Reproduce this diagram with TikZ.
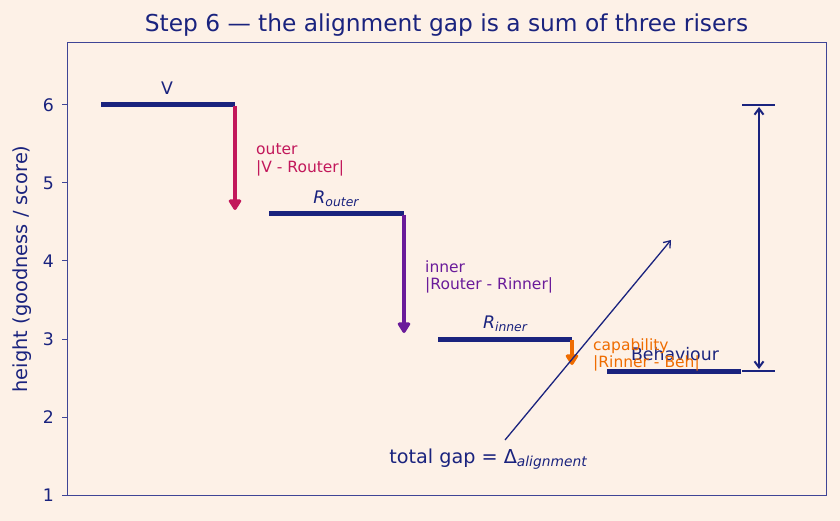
\documentclass[tikz,border=0pt]{standalone}
\usepackage{fontspec}
\setmainfont{DejaVu Sans}
\usetikzlibrary{arrows.meta}
\definecolor{bg}{HTML}{FDF1E7}
\definecolor{navy}{HTML}{1A237E}
\definecolor{frame}{HTML}{3F4596}
\definecolor{crim}{HTML}{C2185B}
\definecolor{purp}{HTML}{6A1B9A}
\definecolor{orng}{HTML}{EF6C00}
\newcommand{\Rsub}[1]{\textit{R}\raisebox{-0.35ex}{\fontsize{12.4}{14}\selectfont\itshape #1}}
\begin{document}
\begin{tikzpicture}[x=1pt,y=-1pt,
  tick/.style={font=\fontsize{17.3}{19}\selectfont, text=navy, anchor=east, inner sep=0pt},
  stepline/.style={navy, line width=5pt},
  steplabel/.style={font=\fontsize{17.3}{19}\selectfont, text=navy, inner sep=0pt},
  riser/.style={line width=3.2pt, -{Triangle[length=12pt,width=14pt,round]}},
  riserlabel/.style={font=\fontsize{15.5}{17.5}\selectfont, align=left, anchor=west, inner sep=0pt},
  thin/.style={navy, line width=1.3pt}]
\fill[bg] (0,0) rectangle (840,521);
\useasboundingbox (0,0) rectangle (840,521);
% title
\node[font=\fontsize{23.3}{26}\selectfont, text=navy] (title) at (446.5,25) {Step 6 — the alignment gap is a sum of three risers};
% axes frame
\draw[frame, line width=1pt] (67,43) rectangle (826,495);
\foreach \v/\yy in {6/105,5/183,4/261,3/339,2/417,1/495}{
  \draw[frame, line width=1pt] (62,\yy) -- (67,\yy);
  \node[tick] (t\v) at (54,\yy) {\v};
}
\node[rotate=90, font=\fontsize{19.4}{21}\selectfont, text=navy] (ylab) at (22,269) {height (goodness / score)};
% coordinates
\coordinate (v0) at (101,105); \coordinate (v1) at (235,105);
\coordinate (o0) at (269,214); \coordinate (o1) at (404,214);
\coordinate (i0) at (438,339); \coordinate (i1) at (572,339);
\coordinate (b0) at (607,371); \coordinate (b1) at (741,371);
% steps
\draw[stepline] (v0) -- (v1);
\draw[stepline] (o0) -- (o1);
\draw[stepline] (i0) -- (i1);
\draw[stepline] (b0) -- (b1);
\node[steplabel] (lv) at (167,88) {V};
\node[steplabel] (lo) at (336,199) {\Rsub{outer}};
\node[steplabel] (li) at (505,324) {\Rsub{inner}};
% risers
\coordinate (r1s) at (235,106); \coordinate (r1e) at (235,210);
\coordinate (r2s) at (404,215); \coordinate (r2e) at (404,333);
\coordinate (r3s) at (572,340); \coordinate (r3e) at (572,365);
\draw[riser, crim] (r1s) -- (r1e);
\draw[riser, purp] (r2s) -- (r2e);
\draw[riser, orng] (r3s) -- (r3e);
\node[riserlabel, text=crim] (lout) at (256,160) {outer\\|V - Router|};
\node[riserlabel, text=purp] (linn) at (425,277) {inner\\|Router - Rinner|};
% total gap arrow
\coordinate (g0) at (505,440); \coordinate (g1) at (671,240);
\draw[thin, -{Straight Barb[length=6pt,width=9pt]}] (g0) -- (g1);
\node[steplabel] (lb) at (675,354) {Behaviour};
\node[riserlabel, text=orng] (lcap) at (593,355) {capability\\|Rinner - Beh|};
\node[font=\fontsize{19.2}{21}\selectfont, text=navy, inner sep=0pt] (tg) at (488,459) {total gap = Δ\raisebox{-0.35ex}{\fontsize{13.8}{15}\selectfont\itshape alignment}};
% right-side bracket
\coordinate (h0) at (742,105); \coordinate (h1) at (775,105);
\coordinate (k0) at (742,371); \coordinate (k1) at (775,371);
\draw[thin] (h0) -- (h1);
\draw[thin] (k0) -- (k1);
\coordinate (d0) at (759,107); \coordinate (d1) at (759,369);
\draw[navy, line width=2pt, {Straight Barb[length=6pt,width=9pt]}-{Straight Barb[length=6pt,width=9pt]}] (d0) -- (d1);
\end{tikzpicture}
\end{document}
